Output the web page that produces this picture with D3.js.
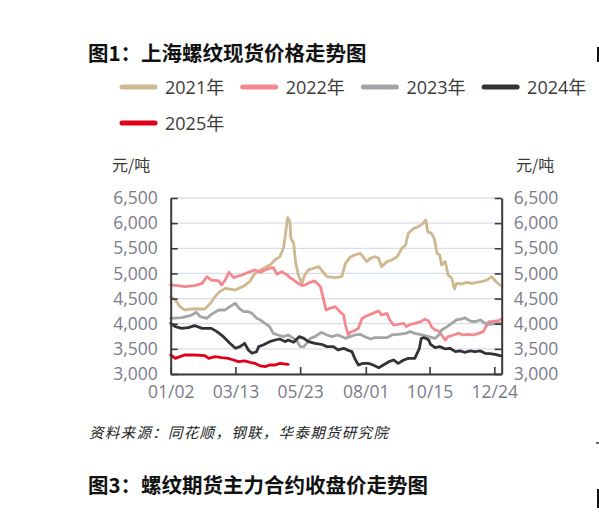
<!DOCTYPE html>
<html>
<head>
<meta charset="utf-8">
<script src="https://d3js.org/d3.v7.min.js"></script>
<style>
  body { margin: 0; background: #fff; }
  svg { display: block; }
</style>
</head>
<body>
<div id="chart"></div>
<script>
// Series: [category index, price] (index 0 = 01/02)
var s2021 = [[0,4540],[5,4472],[10,4339],[15,4273],[23,4293],[30,4293],[37,4293],[43,4406],[48,4538],[53,4638],[59,4703],[64,4690],[70,4670],[75,4717],[80,4757],[86,4850],[91,5002],[97,5068],[102,5120],[107,5160],[113,5270],[118,5333],[122,5500],[124,5764],[126.5,6110],[129,6030],[130,5700],[133,5600],[135,5230],[138,4970],[142,4800],[145,4970],[149,5070],[154,5100],[160,5134],[163,5068],[169,4935],[178,4915],[185,4935],[189,5200],[194,5320],[199,5367],[205,5400],[208,5333],[212,5234],[216,5300],[221,5333],[225,5300],[228,5134],[234,5234],[239,5267],[245,5333],[250,5499],[254,5565],[257,5798],[263,5897],[268,5930],[273,5997],[276,6062],[278,5830],[282,5797],[285,5698],[288,5400],[291,5367],[293,5168],[297,5234],[300,4969],[304,4903],[307,4690],[309,4803],[315,4790],[320,4824],[326,4803],[331,4824],[336,4836],[342,4869],[347,4935],[352,4836],[356,4770],[358,4757]];
var s2022 = [[0,4770],[8,4757],[15,4737],[26,4757],[34,4803],[39,4935],[44,4869],[52,4850],[55,4770],[59,4869],[63,5022],[68,4916],[71,4935],[77,4969],[84,5022],[91,5068],[97,5022],[102,5068],[107,5102],[111,5115],[115,4982],[120,5035],[126,4969],[129,4916],[133,4870],[136,4824],[142,4757],[145,4770],[151,4824],[156,4850],[162,4737],[165,4505],[168,4273],[172,4306],[178,4339],[183,4240],[187,4173],[189,3974],[192,3776],[194,3829],[198,3855],[203,3908],[207,4107],[210,4140],[216,4186],[221,4226],[225,4253],[228,4173],[234,4206],[237,4074],[241,3974],[246,3988],[252,4008],[255,3941],[259,3988],[264,4008],[270,4041],[275,4090],[279,4054],[282,3941],[286,3875],[290,3855],[293,3776],[297,3676],[300,3742],[306,3776],[311,3808],[317,3776],[322,3790],[327,3776],[333,3808],[338,3842],[342,3974],[344,4041],[347,4041],[353,4054],[356,4074],[358,4094]];
var s2023 = [[0,4107],[12,4120],[21,4160],[28,4226],[32,4140],[39,4107],[44,4186],[52,4273],[59,4273],[64,4339],[70,4406],[74,4306],[79,4240],[84,4240],[88,4206],[93,4110],[97,4074],[102,4008],[107,3941],[111,3808],[116,3776],[122,3742],[127,3776],[133,3709],[136,3676],[140,3544],[144,3544],[147,3610],[151,3709],[156,3742],[163,3829],[169,3776],[174,3742],[181,3776],[189,3709],[194,3742],[199,3776],[205,3790],[210,3742],[216,3696],[221,3722],[228,3722],[234,3722],[239,3776],[246,3790],[254,3808],[259,3842],[264,3808],[272,3776],[279,3742],[283,3722],[286,3709],[290,3776],[293,3875],[299,3941],[304,4008],[309,4074],[315,4094],[318,4120],[324,4054],[329,4041],[335,4074],[340,4008],[345,3988],[353,4008],[358,4008]];
var s2024 = [[0,4008],[5,3941],[12,3908],[19,3921],[26,3961],[34,3908],[44,3908],[50,3842],[57,3742],[64,3610],[70,3511],[75,3544],[80,3610],[84,3478],[88,3412],[93,3445],[95,3544],[100,3577],[107,3643],[113,3676],[118,3696],[124,3643],[127,3676],[133,3630],[139,3742],[144,3709],[149,3643],[156,3610],[163,3590],[169,3544],[176,3544],[181,3478],[187,3511],[192,3470],[196,3445],[199,3312],[203,3179],[208,3212],[214,3212],[219,3179],[225,3126],[230,3179],[236,3245],[241,3279],[246,3212],[252,3279],[257,3312],[264,3312],[269,3511],[271,3709],[274,3722],[277,3700],[279,3676],[281,3590],[286,3524],[291,3544],[297,3498],[302,3511],[308,3445],[313,3458],[318,3432],[324,3458],[329,3445],[335,3458],[340,3412],[345,3405],[351,3392],[356,3365],[358,3360]];
var s2025 = [[0,3378],[5,3312],[10,3345],[15,3378],[26,3378],[37,3365],[41,3312],[48,3345],[55,3325],[62,3312],[68,3279],[73,3245],[80,3259],[86,3232],[91,3212],[97,3160],[102,3146],[107,3179],[113,3179],[118,3212],[127,3192]];

var seriesNames = ["2021年", "2022年", "2023年", "2024年", "2025年"];
var seriesData  = [s2021, s2022, s2023, s2024, s2025];

var yTicks       = [3000, 3500, 4000, 4500, 5000, 5500, 6000, 6500];
var xTickIdx     = [0, 70, 140, 211, 280, 350];
var xTickLabels  = ["01/02", "03/13", "05/23", "08/01", "10/15", "12/24"];

// Styles and sizes
var config = {
  "width": 599,
  "height": 522,
  "plot_left": 170.7,
  "plot_right": 501.7,
  "plot_top": 198,
  "plot_bottom": 374,
  "x_max": 358,
  "colors": ["#cfb88f", "#f4888e", "#a3a5a8", "#333333", "#e1001a"],
  "line_width": 2.8,
  "grid_color": "#d8dee9",
  "axis_color": "#3a3a3a",
  "tick_label_color": "#7b7b8b",
  "text_color": "#3a3a3a",
  "cjk_font": "'Noto Sans CJK SC', sans-serif",
  "num_font": "'Open Sans', 'Noto Sans CJK SC', sans-serif"
};

var svg = null, x = null, y = null;

function setup(config) {
  svg = d3.select("#chart")
          .append("svg")
            .attr("width", config.width)
            .attr("height", config.height);

  svg.append("rect")
       .attr("width", config.width)
       .attr("height", config.height)
       .attr("fill", "#fff");

  x = d3.scaleLinear()
        .domain([0, config.x_max])
        .range([config.plot_left, config.plot_right]);

  y = d3.scaleLinear()
        .domain([3000, 6500])
        .range([config.plot_bottom, config.plot_top]);
}

function drawTexts(config) {
  // titles
  svg.append("text")
       .attr("x", 88).attr("y", 61)
       .style("font-family", config.cjk_font)
       .style("font-size", "20.5px")
       .style("font-weight", "bold")
       .style("fill", "#111")
       .text("图1：上海螺纹现货价格走势图");

  svg.append("text")
       .attr("x", 88).attr("y", 493)
       .style("font-family", config.cjk_font)
       .style("font-size", "20.5px")
       .style("font-weight", "bold")
       .style("fill", "#111")
       .text("图3：螺纹期货主力合约收盘价走势图");

  // edge of the neighbouring panel on the right
  svg.append("rect").attr("x", 597).attr("y", 47).attr("width", 2).attr("height", 15).attr("fill", "#111");
  svg.append("rect").attr("x", 597).attr("y", 489).attr("width", 2).attr("height", 19).attr("fill", "#111");
  svg.append("rect").attr("x", 596).attr("y", 442).attr("width", 3).attr("height", 2).attr("fill", "#666");

  svg.append("text")
       .attr("x", 89).attr("y", 438)
       .style("font-family", config.cjk_font)
       .style("font-size", "14.5px")
       .style("font-style", "italic")
       .style("letter-spacing", "1.3px")
       .style("fill", "#222")
       .text("资料来源：同花顺，钢联，华泰期货研究院");

  // unit labels
  [112, 516].forEach(function(ux) {
    svg.append("text")
         .attr("x", ux).attr("y", 171)
         .style("font-family", config.cjk_font)
         .style("font-size", "16px")
         .style("fill", config.text_color)
         .text("元/吨");
  });
}

function drawLegend(config) {
  var item = svg.append("g")
                  .attr("class", "legend")
                .selectAll("g")
                .data(seriesNames)
                .enter()
                .append("g")
                  .attr("transform", function(d, i) {
                    return "translate(" + (120 + (i % 4) * 120.7) + "," + (87 + Math.floor(i / 4) * 36) + ")";
                  });

  item.append("line")
        .attr("x1", 2).attr("x2", 35)
        .attr("y1", 0).attr("y2", 0)
        .style("stroke", function(d, i) { return config.colors[i]; })
        .style("stroke-width", 5)
        .style("stroke-linecap", "round");

  item.append("text")
        .attr("x", 45).attr("y", 6.5)
        .style("font-family", config.num_font)
        .style("font-size", "18px")
        .style("fill", config.text_color)
        .text(function(d) { return d; });
}

function drawGrid(config) {
  svg.append("g")
       .attr("class", "grid")
     .selectAll("line")
     .data(yTicks)
     .enter()
     .append("line")
       .attr("x1", config.plot_left)
       .attr("x2", config.plot_right)
       .attr("y1", function(d) { return y(d); })
       .attr("y2", function(d) { return y(d); })
       .style("stroke", config.grid_color)
       .style("stroke-width", 1.3);
}

function styleAxis(g, config) {
  g.select(".domain").style("stroke", config.axis_color).style("stroke-width", 2);
  g.selectAll(".tick line").style("stroke", config.axis_color).style("stroke-width", 1.6);
  g.selectAll(".tick text")
     .style("font-family", config.num_font)
     .style("font-size", "17.5px")
     .style("fill", config.tick_label_color);
}

function drawAxes(config) {
  var left = svg.append("g")
                  .attr("transform", "translate(" + config.plot_left + ",0)")
                  .call(d3.axisLeft(y).tickValues(yTicks).tickFormat(d3.format(","))
                          .tickSize(-7).tickSizeOuter(0).tickPadding(13));
  styleAxis(left, config);

  var right = svg.append("g")
                   .attr("transform", "translate(" + config.plot_right + ",0)")
                   .call(d3.axisRight(y).tickValues(yTicks).tickFormat(d3.format(","))
                           .tickSize(-7).tickSizeOuter(0).tickPadding(12));
  styleAxis(right, config);

  var bottom = svg.append("g")
                    .attr("transform", "translate(0," + config.plot_bottom + ")")
                    .call(d3.axisBottom(x).tickValues(xTickIdx)
                            .tickFormat(function(d, i) { return xTickLabels[i]; })
                            .tickSize(-7).tickSizeOuter(0).tickPadding(12));
  styleAxis(bottom, config);
}

function drawLines(config) {
  var line = d3.line()
               .x(function(d) { return x(d[0]); })
               .y(function(d) { return y(d[1]); });

  svg.append("g")
       .attr("class", "series")
     .selectAll("path")
     .data(seriesData)
     .enter()
     .append("path")
       .attr("d", line)
       .style("fill", "none")
       .style("stroke", function(d, i) { return config.colors[i]; })
       .style("stroke-width", config.line_width)
       .style("stroke-linejoin", "round")
       .style("stroke-linecap", "round");
}

setup(config);
drawTexts(config);
drawLegend(config);
drawGrid(config);
drawLines(config);
drawAxes(config);
</script>
</body>
</html>
